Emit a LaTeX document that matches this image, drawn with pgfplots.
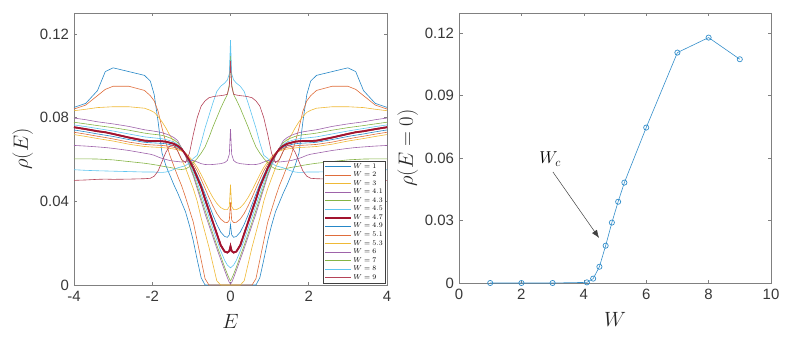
\documentclass[border=0pt]{standalone}
\usepackage{fontspec}
\setmainfont{Liberation Sans}
\usepackage{pgfplots}
\pgfplotsset{compat=1.18}
\usepackage{pgfplotstable}
\usetikzlibrary{arrows.meta}

\definecolor{mblue}{RGB}{0,114,189}
\definecolor{morange}{RGB}{217,83,25}
\definecolor{myellow}{RGB}{237,177,32}
\definecolor{mpurple}{RGB}{126,47,142}
\definecolor{mgreen}{RGB}{119,172,48}
\definecolor{mcyan}{RGB}{77,190,238}
\definecolor{mred}{RGB}{162,20,47}
\definecolor{axgray}{gray}{0.5}
\definecolor{txtgray}{gray}{0.22}

% density of states, one column per disorder W
\pgfplotstableread{
E     w1     w2     w3     w41    w43    w45    w47    w49    w51    w53    w6     w7     w8     w9
-4.00 0.0849 0.0841 0.0833 0.0798 0.0778 0.0765 0.0754 0.0741 0.0730 0.0719 0.0667 0.0603 0.0551 0.0500
-3.70 0.0868 0.0860 0.0840 0.0790 0.0770 0.0757 0.0745 0.0732 0.0721 0.0710 0.0664 0.0603 0.0548 0.0502
-3.40 0.0929 0.0905 0.0848 0.0780 0.0762 0.0748 0.0735 0.0722 0.0711 0.0700 0.0660 0.0602 0.0546 0.0505
-3.20 0.1020 0.0935 0.0850 0.0775 0.0757 0.0742 0.0730 0.0716 0.0705 0.0694 0.0657 0.0600 0.0545 0.0506
-3.00 0.1038 0.0950 0.0852 0.0770 0.0752 0.0736 0.0722 0.0710 0.0698 0.0688 0.0653 0.0598 0.0544 0.0505
-2.60 0.1020 0.0950 0.0852 0.0758 0.0740 0.0722 0.0705 0.0695 0.0683 0.0673 0.0643 0.0590 0.0542 0.0506
-2.20 0.1002 0.0930 0.0845 0.0742 0.0726 0.0708 0.0690 0.0682 0.0672 0.0662 0.0630 0.0582 0.0540 0.0508
-2.05 0.0975 0.0905 0.0835 0.0738 0.0722 0.0705 0.0688 0.0680 0.0670 0.0660 0.0625 0.0578 0.0540 0.0510
-1.95 0.0910 0.0880 0.0825 0.0735 0.0720 0.0703 0.0688 0.0679 0.0669 0.0659 0.0620 0.0575 0.0540 0.0520
-1.85 0.0780 0.0830 0.0805 0.0732 0.0718 0.0701 0.0688 0.0678 0.0668 0.0658 0.0612 0.0572 0.0538 0.0545
-1.75 0.0630 0.0750 0.0780 0.0728 0.0715 0.0699 0.0687 0.0677 0.0667 0.0657 0.0605 0.0568 0.0538 0.0590
-1.65 0.0570 0.0680 0.0750 0.0722 0.0710 0.0695 0.0685 0.0675 0.0665 0.0655 0.0600 0.0565 0.0540 0.0635
-1.55 0.0525 0.0620 0.0715 0.0715 0.0703 0.0690 0.0680 0.0671 0.0662 0.0653 0.0595 0.0562 0.0545 0.0665
-1.45 0.0480 0.0570 0.0685 0.0705 0.0695 0.0684 0.0675 0.0666 0.0658 0.0650 0.0592 0.0558 0.0552 0.0668
-1.35 0.0440 0.0520 0.0640 0.0690 0.0680 0.0672 0.0665 0.0658 0.0652 0.0646 0.0590 0.0554 0.0560 0.0640
-1.25 0.0395 0.0475 0.0600 0.0655 0.0655 0.0654 0.0650 0.0645 0.0642 0.0640 0.0588 0.0552 0.0565 0.0600
-1.15 0.0350 0.0420 0.0560 0.0615 0.0620 0.0624 0.0625 0.0625 0.0627 0.0630 0.0590 0.0555 0.0570 0.0585
-1.05 0.0285 0.0360 0.0510 0.0570 0.0576 0.0582 0.0595 0.0598 0.0605 0.0612 0.0595 0.0565 0.0585 0.0630
-0.95 0.0210 0.0300 0.0460 0.0520 0.0528 0.0540 0.0558 0.0565 0.0578 0.0590 0.0595 0.0585 0.0605 0.0720
-0.85 0.0120 0.0210 0.0400 0.0460 0.0472 0.0490 0.0513 0.0525 0.0545 0.0562 0.0588 0.0605 0.0620 0.0800
-0.75 0.0035 0.0120 0.0320 0.0400 0.0415 0.0435 0.0468 0.0482 0.0505 0.0528 0.0580 0.0630 0.0680 0.0855
-0.65 0      0.0030 0.0250 0.0340 0.0357 0.0380 0.0410 0.0435 0.0462 0.0490 0.0576 0.0660 0.0750 0.0880
-0.55 0      0      0.0180 0.0285 0.0300 0.0325 0.0355 0.0385 0.0418 0.0452 0.0575 0.0705 0.0810 0.0895
-0.45 0      0      0.0100 0.0230 0.0245 0.0270 0.0300 0.0335 0.0378 0.0418 0.0576 0.0755 0.0870 0.0900
-0.35 0      0      0.0020 0.0175 0.0190 0.0215 0.0245 0.0290 0.0342 0.0390 0.0578 0.0800 0.0925 0.0903
-0.25 0      0      0      0.0122 0.0138 0.0163 0.0190 0.0253 0.0315 0.0370 0.0580 0.0845 0.0950 0.0905
-0.15 0      0      0      0.0070 0.0085 0.0118 0.0160 0.0232 0.0300 0.0360 0.0585 0.0885 0.0965 0.0908
-0.08 0      0      0      0.0035 0.0052 0.0095 0.0155 0.0228 0.0298 0.0360 0.0595 0.0910 0.0980 0.0912
-0.03 0      0      0      0.0012 0.0030 0.0087 0.0162 0.0240 0.0310 0.0375 0.0625 0.0960 0.1010 0.0950
 0.00 0      0      0      0.0005 0.0020 0.0082 0.0185 0.0290 0.0395 0.0480 0.0745 0.1100 0.1170 0.1070
 0.03 0      0      0      0.0012 0.0030 0.0087 0.0162 0.0240 0.0310 0.0375 0.0625 0.0960 0.1010 0.0950
 0.08 0      0      0      0.0035 0.0052 0.0095 0.0155 0.0228 0.0298 0.0360 0.0595 0.0910 0.0980 0.0912
 0.15 0      0      0      0.0070 0.0085 0.0118 0.0160 0.0232 0.0300 0.0360 0.0585 0.0885 0.0965 0.0908
 0.25 0      0      0      0.0122 0.0138 0.0163 0.0190 0.0253 0.0315 0.0370 0.0580 0.0845 0.0950 0.0905
 0.35 0      0      0.0020 0.0175 0.0190 0.0215 0.0245 0.0290 0.0342 0.0390 0.0578 0.0800 0.0925 0.0903
 0.45 0      0      0.0100 0.0230 0.0245 0.0270 0.0300 0.0335 0.0378 0.0418 0.0576 0.0755 0.0870 0.0900
 0.55 0      0      0.0180 0.0285 0.0300 0.0325 0.0355 0.0385 0.0418 0.0452 0.0575 0.0705 0.0810 0.0895
 0.65 0      0.0030 0.0250 0.0340 0.0357 0.0380 0.0410 0.0435 0.0462 0.0490 0.0576 0.0660 0.0750 0.0880
 0.75 0.0035 0.0120 0.0320 0.0400 0.0415 0.0435 0.0468 0.0482 0.0505 0.0528 0.0580 0.0630 0.0680 0.0855
 0.85 0.0120 0.0210 0.0400 0.0460 0.0472 0.0490 0.0513 0.0525 0.0545 0.0562 0.0588 0.0605 0.0620 0.0800
 0.95 0.0210 0.0300 0.0460 0.0520 0.0528 0.0540 0.0558 0.0565 0.0578 0.0590 0.0595 0.0585 0.0605 0.0720
 1.05 0.0285 0.0360 0.0510 0.0570 0.0576 0.0582 0.0595 0.0598 0.0605 0.0612 0.0595 0.0565 0.0585 0.0630
 1.15 0.0350 0.0420 0.0560 0.0615 0.0620 0.0624 0.0625 0.0625 0.0627 0.0630 0.0590 0.0555 0.0570 0.0585
 1.25 0.0395 0.0475 0.0600 0.0655 0.0655 0.0654 0.0650 0.0645 0.0642 0.0640 0.0588 0.0552 0.0565 0.0600
 1.35 0.0440 0.0520 0.0640 0.0690 0.0680 0.0672 0.0665 0.0658 0.0652 0.0646 0.0590 0.0554 0.0560 0.0640
 1.45 0.0480 0.0570 0.0685 0.0705 0.0695 0.0684 0.0675 0.0666 0.0658 0.0650 0.0592 0.0558 0.0552 0.0668
 1.55 0.0525 0.0620 0.0715 0.0715 0.0703 0.0690 0.0680 0.0671 0.0662 0.0653 0.0595 0.0562 0.0545 0.0665
 1.65 0.0570 0.0680 0.0750 0.0722 0.0710 0.0695 0.0685 0.0675 0.0665 0.0655 0.0600 0.0565 0.0540 0.0635
 1.75 0.0630 0.0750 0.0780 0.0728 0.0715 0.0699 0.0687 0.0677 0.0667 0.0657 0.0605 0.0568 0.0538 0.0590
 1.85 0.0780 0.0830 0.0805 0.0732 0.0718 0.0701 0.0688 0.0678 0.0668 0.0658 0.0612 0.0572 0.0538 0.0545
 1.95 0.0910 0.0880 0.0825 0.0735 0.0720 0.0703 0.0688 0.0679 0.0669 0.0659 0.0620 0.0575 0.0540 0.0520
 2.05 0.0975 0.0905 0.0835 0.0738 0.0722 0.0705 0.0688 0.0680 0.0670 0.0660 0.0625 0.0578 0.0540 0.0510
 2.20 0.1002 0.0930 0.0845 0.0742 0.0726 0.0708 0.0690 0.0682 0.0672 0.0662 0.0630 0.0582 0.0540 0.0508
 2.60 0.1020 0.0950 0.0852 0.0758 0.0740 0.0722 0.0705 0.0695 0.0683 0.0673 0.0643 0.0590 0.0542 0.0506
 3.00 0.1038 0.0950 0.0852 0.0770 0.0752 0.0736 0.0722 0.0710 0.0698 0.0688 0.0653 0.0598 0.0544 0.0505
 3.20 0.1020 0.0935 0.0850 0.0775 0.0757 0.0742 0.0730 0.0716 0.0705 0.0694 0.0657 0.0600 0.0545 0.0506
 3.40 0.0929 0.0905 0.0848 0.0780 0.0762 0.0748 0.0735 0.0722 0.0711 0.0700 0.0660 0.0602 0.0546 0.0505
 3.70 0.0868 0.0860 0.0840 0.0790 0.0770 0.0757 0.0745 0.0732 0.0721 0.0710 0.0664 0.0603 0.0548 0.0502
 4.00 0.0849 0.0841 0.0833 0.0798 0.0778 0.0765 0.0754 0.0741 0.0730 0.0719 0.0667 0.0603 0.0551 0.0500
}\dos

% rho(E=0) against W
\pgfplotstableread{
W    rho
1    0
2    0
3    0
4.1  0.0003
4.3  0.0021
4.5  0.0078
4.7  0.0179
4.9  0.0290
5.1  0.0390
5.3  0.0482
6    0.0746
7    0.1106
8    0.1178
9    0.1074
}\rhozero

\pgfplotsset{
  matlab/.style={
    scale only axis,
    axis line style={axgray, line width=0.6bp},
    every tick/.style={axgray, line width=0.6bp},
    major tick length=3.5bp,
    tick align=inside,
    xtick pos=both, ytick pos=both,
    ticklabel style={font=\fontsize{15}{18}\selectfont, text=txtgray},
    xticklabel style={yshift=-3bp},
    yticklabel style={xshift=-1.5bp},
    label style={font=\fontsize{20}{24}\selectfont, text=black!85},
    xlabel style={yshift=-5bp},
    scaled ticks=false,
  },
}

\begin{document}
\begin{tikzpicture}
  \begin{axis}[
    matlab,
    width=313bp, height=272bp,
    xmin=-4, xmax=4, ymin=0, ymax=0.13,
    xtick={-4,-2,0,2,4}, xticklabels={-4,-2,0,2,4},
    ytick={0,0.04,0.08,0.12}, yticklabels={0,0.04,0.08,0.12},
    xlabel={$E$}, ylabel={$\rho(E)$},
    every axis plot/.append style={line width=0.6bp},
    legend style={
      at={(0.9936,0.0074)}, anchor=south east,
      font=\fontsize{7}{7}\selectfont,
      draw=black!75, line width=0.4bp,
      inner sep=1bp, row sep=0.3bp,
      nodes={inner sep=1bp},
      cells={anchor=west},
    },
    legend image code/.code={\draw[#1] (0bp,0bp) -- (26bp,0bp);},
  ]
    \addplot[mblue!85!white]   table[x=E, y=w1]  {\dos}; \addlegendentry{$W=1$}
    \addplot[morange!85!white] table[x=E, y=w2]  {\dos}; \addlegendentry{$W=2$}
    \addplot[myellow!90!white] table[x=E, y=w3]  {\dos}; \addlegendentry{$W=3$}
    \addplot[mpurple!75!white] table[x=E, y=w41] {\dos}; \addlegendentry{$W=4.1$}
    \addplot[mgreen!90!white]  table[x=E, y=w43] {\dos}; \addlegendentry{$W=4.3$}
    \addplot[mcyan!90!white]   table[x=E, y=w45] {\dos}; \addlegendentry{$W=4.5$}
    \addplot[mred, line width=1.7bp] table[x=E, y=w47] {\dos}; \addlegendentry{$W=4.7$}
    \addplot[mblue!85!white]   table[x=E, y=w49] {\dos}; \addlegendentry{$W=4.9$}
    \addplot[morange!85!white] table[x=E, y=w51] {\dos}; \addlegendentry{$W=5.1$}
    \addplot[myellow!90!white] table[x=E, y=w53] {\dos}; \addlegendentry{$W=5.3$}
    \addplot[mpurple!75!white] table[x=E, y=w6]  {\dos}; \addlegendentry{$W=6$}
    \addplot[mgreen!90!white]  table[x=E, y=w7]  {\dos}; \addlegendentry{$W=7$}
    \addplot[mcyan!90!white]   table[x=E, y=w8]  {\dos}; \addlegendentry{$W=8$}
    \addplot[mred!80!white]    table[x=E, y=w9]  {\dos}; \addlegendentry{$W=9$}
    % thick W=4.7 curve again on top
    \addplot[mred, line width=1.7bp, forget plot] table[x=E, y=w47] {\dos};
  \end{axis}

  \begin{axis}[
    matlab,
    at={(385bp,2bp)},
    width=312bp, height=270bp,
    xmin=0, xmax=10, ymin=0, ymax=0.1296,
    xtick={0,2,4,6,8,10}, xticklabels={0,2,4,6,8,10},
    ytick={0,0.03,0.06,0.09,0.12}, yticklabels={0,0.03,0.06,0.09,0.12},
    xlabel={$W$}, ylabel={$\rho(E=0)$},
    clip=false,
  ]
    \addplot[mblue!80!white, line width=0.6bp, mark=o, mark size=2.6bp,
             mark options={line width=0.7bp}]
      table[x=W, y=rho] {\rhozero};
    \node[font=\fontsize{18}{20}\selectfont] at (axis cs:2.92,0.0594) {$W_c$};
    \draw[black!75, line width=0.5bp, -{Latex[length=8bp,width=6bp]}]
      (axis cs:3.01,0.0533) -- (axis cs:4.49,0.0216);
  \end{axis}

  \pgfresetboundingbox
  \path[use as bounding box] (-74bp,-53bp) rectangle (715bp,285bp);
\end{tikzpicture}
\end{document}
